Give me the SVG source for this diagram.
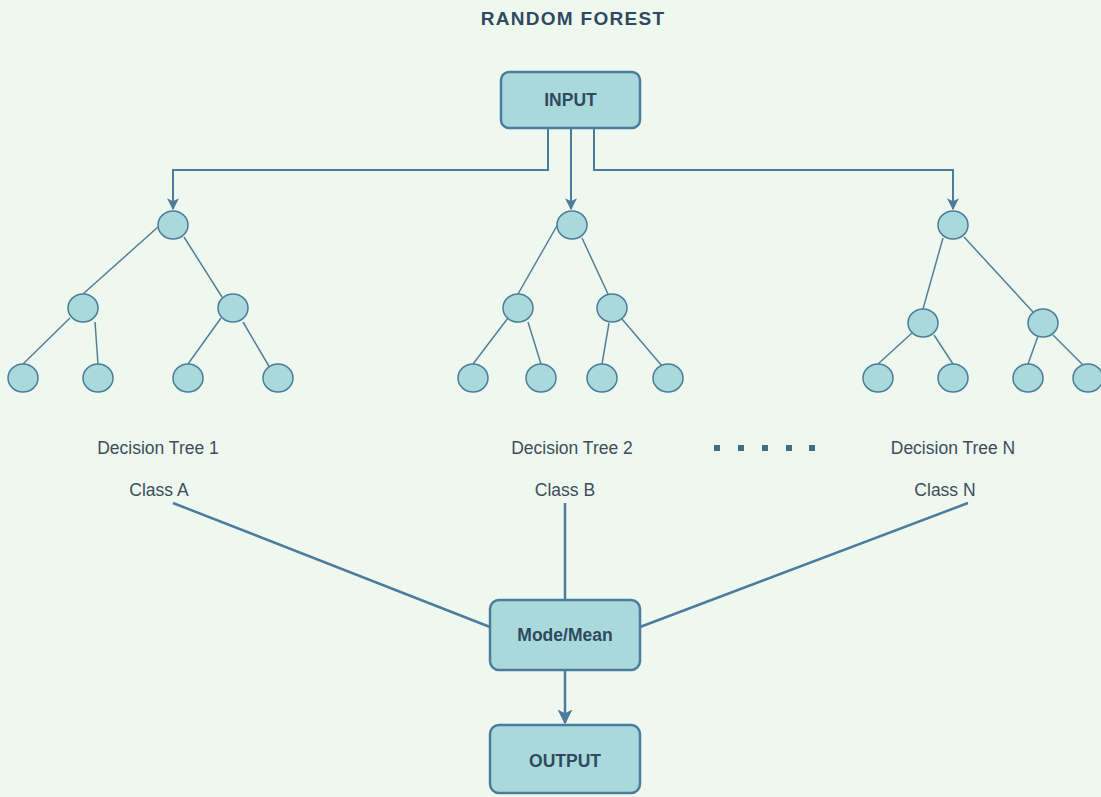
<svg xmlns="http://www.w3.org/2000/svg" width="1101" height="797" viewBox="0 0 1101 797">
<defs>
<style>
.bg{fill:#eff8ee}
.box{fill:#a9d9db;stroke:#4b7c9c;stroke-width:2.5}
.nd{fill:#a9d9db;stroke:#4b7c9c;stroke-width:1.5}
.tl{stroke:#557f98;stroke-width:1.5;fill:none}
.cn{stroke:#4b7c9c;stroke-width:2;fill:none}
.hv{stroke:#4b7c9c;stroke-width:2.5;fill:none}
.bt{font-family:"Liberation Sans",Arial,sans-serif;font-weight:bold;font-size:17.5px;fill:#2f4a60;text-anchor:middle}
.ttl{font-family:"Liberation Sans",Arial,sans-serif;font-weight:bold;font-size:19px;letter-spacing:1.3px;fill:#2f4a60;text-anchor:middle}
.lb{font-family:"Liberation Sans",Arial,sans-serif;font-size:17.5px;fill:#3d4d5c;text-anchor:middle}
.dot{fill:#3e6f8a}
</style>
<marker id="ar2" viewBox="0 0 10 10" refX="9" refY="5" markerWidth="6" markerHeight="6" orient="auto" markerUnits="strokeWidth">
<path d="M0,0 L10,5 L0,10 L2.5,5 z" fill="#4b7c9c"/>
</marker>
</defs>
<rect class="bg" x="0" y="0" width="1101" height="797"/>
<text class="ttl" x="573" y="25">RANDOM FOREST</text>

<g id="connectors">
<path class="cn" d="M548,128 V170 H173 V209" marker-end="url(#ar2)"/>
<path class="cn" d="M571,128 V209" marker-end="url(#ar2)"/>
<path class="cn" d="M594,128 V170 H953 V209" marker-end="url(#ar2)"/>
<!-- tree 1 -->
<path class="tl" d="M158,227 L83,294 M184,237 L222,297 M70,318 L23,364 M95,322 L98,364 M221,318 L188,364 M243,322 L270,368"/>
<!-- tree 2 -->
<path class="tl" d="M558,224 L518,294 M582,238 L608,294 M508,318 L473,364 M528,322 L541,364 M609,323 L602,364 M622,319 L662,366"/>
<!-- tree 3 -->
<path class="tl" d="M943,238 L923,309 M964,237 L1033,312 M912,333 L878,364 M934,335 L953,364 M1038,336 L1028,364 M1053,335 L1083,365"/>
<!-- class lines -->
<path class="hv" d="M173,503 L490,627"/>
<path class="hv" d="M565,503 V600"/>
<path class="hv" d="M968,503 L640,627"/>
<path class="hv" d="M565,670 V723" marker-end="url(#ar2)"/>
</g>

<g id="input"><rect class="box" x="501" y="72" width="139" height="56" rx="8"/><text class="bt" x="570.5" y="106">INPUT</text></g>

<g id="tree1">
<ellipse class="nd" cx="173" cy="225" rx="15" ry="14"/>
<ellipse class="nd" cx="83" cy="308" rx="15" ry="14"/>
<ellipse class="nd" cx="233" cy="308" rx="15" ry="14"/>
<ellipse class="nd" cx="23" cy="378" rx="15" ry="14"/>
<ellipse class="nd" cx="98" cy="378" rx="15" ry="14"/>
<ellipse class="nd" cx="188" cy="378" rx="15" ry="14"/>
<ellipse class="nd" cx="278" cy="378" rx="15" ry="14"/>
</g>
<g id="tree2">
<ellipse class="nd" cx="572" cy="225" rx="15" ry="14"/>
<ellipse class="nd" cx="518" cy="308" rx="15" ry="14"/>
<ellipse class="nd" cx="612" cy="308" rx="15" ry="14"/>
<ellipse class="nd" cx="473" cy="378" rx="15" ry="14"/>
<ellipse class="nd" cx="541" cy="378" rx="15" ry="14"/>
<ellipse class="nd" cx="602" cy="378" rx="15" ry="14"/>
<ellipse class="nd" cx="668" cy="378" rx="15" ry="14"/>
</g>
<g id="tree3">
<ellipse class="nd" cx="953" cy="225" rx="15" ry="14"/>
<ellipse class="nd" cx="923" cy="323" rx="15" ry="14"/>
<ellipse class="nd" cx="1043" cy="323" rx="15" ry="14"/>
<ellipse class="nd" cx="878" cy="378" rx="15" ry="14"/>
<ellipse class="nd" cx="953" cy="378" rx="15" ry="14"/>
<ellipse class="nd" cx="1028" cy="378" rx="15" ry="14"/>
<ellipse class="nd" cx="1088" cy="378" rx="15" ry="14"/>
</g>

<g id="labels">
<text class="lb" x="158" y="454">Decision Tree 1</text>
<text class="lb" x="572" y="454">Decision Tree 2</text>
<text class="lb" x="953" y="454">Decision Tree N</text>
<text class="lb" x="159" y="496">Class A</text>
<text class="lb" x="565" y="496">Class B</text>
<text class="lb" x="945" y="496">Class N</text>
</g>
<g id="dots">
<rect class="dot" x="714" y="445" width="6" height="6"/>
<rect class="dot" x="738" y="445" width="6" height="6"/>
<rect class="dot" x="762" y="445" width="6" height="6"/>
<rect class="dot" x="786" y="445" width="6" height="6"/>
<rect class="dot" x="809" y="445" width="6" height="6"/>
</g>

<g id="mode"><rect class="box" x="490" y="600" width="150" height="70" rx="9"/><text class="bt" x="565" y="641">Mode/Mean</text></g>
<g id="output"><rect class="box" x="490" y="725" width="150" height="68" rx="9"/><text class="bt" x="565" y="767">OUTPUT</text></g>
</svg>
